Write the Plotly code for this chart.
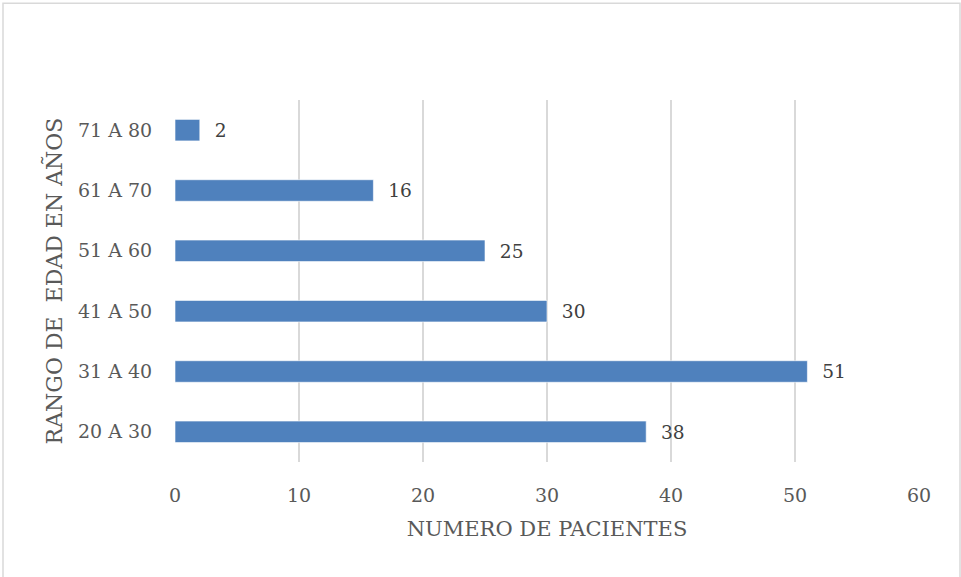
import plotly.graph_objects as go

categories = ["20 A 30", "31 A 40", "41 A 50", "51 A 60", "61 A 70", "71 A 80"]
patients = [38, 51, 30, 25, 16, 2]
x_ticks = [0, 10, 20, 30, 40, 50, 60]

FONT = "DejaVu Serif, Liberation Serif, serif"
W, H = 961, 577
L, R, T, B = 175, 42, 100, 114.5
pw, ph = W - L - R, H - T - B

def px(xpix):
    return (xpix - L) / pw

def py(ypix):
    return (H - B - ypix) / ph

fig = go.Figure(go.Bar(
    y=categories,
    x=patients,
    orientation="h",
    marker=dict(color="#4f81bd", line=dict(color="rgba(255,255,255,0.6)", width=1)),
    text=patients,
    texttemplate="  %{x}",
    textposition="outside",
    textfont=dict(family=FONT, size=19, color="#404040"),
    cliponaxis=False,
))

fig.update_layout(
    width=W, height=H,
    margin=dict(l=L, r=R, t=T, b=B),
    paper_bgcolor="white",
    plot_bgcolor="white",
    bargap=0.643,
    showlegend=False,
    font=dict(family=FONT, color="#595959", size=19),
    xaxis=dict(
        range=[0, 60],
        tickvals=x_ticks,
        showgrid=True,
        gridcolor="#d9d9d9",
        gridwidth=1.5,
        zeroline=False,
        showline=False,
        ticks="outside",
        ticklen=16,
        tickcolor="rgba(0,0,0,0)",
        tickfont=dict(family=FONT, size=19, color="#595959"),
        title=dict(text="NUMERO DE PACIENTES", font=dict(family=FONT, size=21, color="#595959"), standoff=16),
    ),
    yaxis=dict(
        categoryorder="array",
        categoryarray=categories,
        showgrid=False,
        zeroline=False,
        showline=False,
        ticks="outside",
        ticklen=18,
        tickcolor="rgba(0,0,0,0)",
        tickfont=dict(family=FONT, size=19, color="#595959"),
        title=dict(text="RANGO DE\u00a0 EDAD EN AÑOS", font=dict(family=FONT, size=22, color="#595959"), standoff=9),
    ),
    shapes=[dict(
        type="rect", xref="paper", yref="paper",
        x0=px(3), x1=px(960), y0=py(580), y1=py(3),
        line=dict(color="#d9d9d9", width=1.5), fillcolor="rgba(0,0,0,0)", layer="below",
    )],
)

fig.write_html("out.html", config={"displayModeBar": False},
               post_script="document.body.style.margin='0px';")
